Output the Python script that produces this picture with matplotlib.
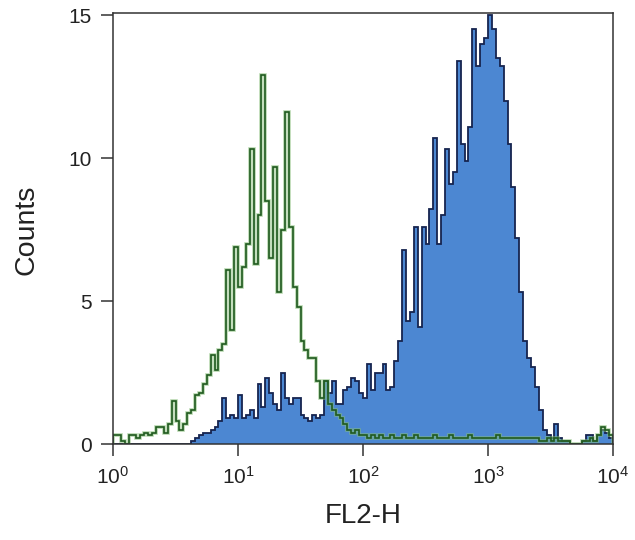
import numpy as np
import matplotlib
matplotlib.use("Agg")
import matplotlib.pyplot as plt

plt.rcParams['font.family'] = ['Liberation Sans', 'DejaVu Sans']
plt.rcParams['mathtext.fontset'] = 'custom'
plt.rcParams['mathtext.rm'] = 'Liberation Sans'
plt.rcParams['mathtext.it'] = 'Liberation Sans'

# 32 channels per decade, 10^0 .. 10^4
n_bins = 128
green_counts = [
    0.3, 0.3, 0.1, 0.0, 0.3, 0.3, 0.2, 0.3, 0.4, 0.3,
    0.4, 0.6, 0.6, 0.4, 0.7, 1.5, 0.8, 0.5, 0.7, 1.1,
    1.2, 1.7, 1.8, 2.1, 2.4, 3.1, 2.6, 3.3, 3.5, 6.1,
    4.0, 6.9, 5.5, 6.2, 7.0, 10.3, 6.3, 8.0, 12.9, 8.5,
    6.5, 9.7, 5.3, 7.5, 11.6, 7.6, 5.5, 4.8, 3.6, 3.3,
    3.0, 3.0, 2.2, 1.6, 2.2, 1.4, 1.2, 1.0, 0.9, 0.7,
    0.5, 0.4, 0.5, 0.3, 0.3, 0.2, 0.3, 0.2, 0.3, 0.2,
    0.2, 0.3, 0.2, 0.2, 0.3, 0.2, 0.2, 0.3, 0.2, 0.2,
    0.2, 0.2, 0.3, 0.2, 0.2, 0.2, 0.3, 0.2, 0.2, 0.2,
    0.2, 0.3, 0.2, 0.2, 0.2, 0.2, 0.2, 0.2, 0.3, 0.2,
    0.2, 0.2, 0.2, 0.2, 0.2, 0.2, 0.2, 0.2, 0.2, 0.1,
    0.1, 0.2, 0.1, 0.2, 0.1, 0.1, 0.1, 0.0, 0.0, 0.0,
    0.1, 0.1, 0.2, 0.1, 0.3, 0.6, 0.5, 0.3,
]
blue_counts = [
    0, 0, 0, 0, 0, 0, 0, 0, 0, 0,
    0, 0, 0, 0, 0, 0, 0, 0, 0, 0,
    0.1, 0.2, 0.3, 0.4, 0.4, 0.5, 0.6, 0.8, 1.6, 0.9,
    1.0, 0.9, 1.7, 0.9, 1.0, 1.2, 0.9, 2.1, 1.3, 2.3,
    1.8, 1.4, 1.2, 2.5, 1.6, 1.4, 1.6, 1.6, 1.0, 0.9,
    0.8, 1.0, 0.9, 1.0, 2.2, 1.8, 2.2, 1.4, 1.4, 1.9,
    2.0, 2.3, 2.2, 1.8, 1.6, 2.8, 1.9, 2.5, 2.5, 2.8,
    1.9, 2.0, 2.9, 3.6, 6.8, 4.3, 4.6, 7.6, 4.1, 7.6,
    7.0, 8.2, 10.7, 7.0, 8.0, 10.3, 9.1, 9.5, 13.4, 10.5,
    9.9, 11.1, 14.5, 13.2, 14.0, 14.2, 15.0, 14.5, 13.5, 13.2,
    12.0, 10.5, 9.0, 7.2, 5.3, 3.6, 3.0, 2.7, 2.0, 1.2,
    0.5, 0.3, 0.2, 0.7, 0.2, 0.1, 0.1, 0, 0, 0,
    0.1, 0.3, 0.3, 0.1, 0.3, 0.5, 0.4, 0.2,
]
x_ticks = [1, 10, 100, 1000, 10000]
x_tick_labels = [r'$\mathregular{10^{0}}$', r'$\mathregular{10^{1}}$',
                 r'$\mathregular{10^{2}}$', r'$\mathregular{10^{3}}$',
                 r'$\mathregular{10^{4}}$']
y_ticks = [0, 5, 10, 15]

edges = np.logspace(0, 4, n_bins + 1)

fig = plt.figure(figsize=(6.35, 5.4), dpi=100)
ax = fig.add_axes([113/635, 1 - 444/540, 500/635, 431/540])

ax.stairs(blue_counts, edges, fill=True, color='#4c87d2', zorder=2)
ax.stairs(blue_counts, edges, color='#16244f', lw=1.3, zorder=3)
ax.stairs(green_counts, edges, color='#86bd78', lw=2.6, alpha=0.6, zorder=4)
ax.stairs(green_counts, edges, color='#1f5a1f', lw=1.2, zorder=5)

ax.set_xscale('log')
ax.set_xlim(1, 10000)
ax.set_ylim(0, 15.07)
ax.set_xticks(x_ticks)
ax.set_xticklabels(x_tick_labels)
ax.xaxis.set_minor_locator(matplotlib.ticker.NullLocator())
ax.set_yticks(y_ticks)
ax.tick_params(axis='both', direction='out', length=8.5, width=1.1,
               color='#333333', labelsize=15, labelcolor='#222222')
ax.tick_params(axis='x', pad=7)
ax.tick_params(axis='y', pad=7)
for s in ax.spines.values():
    s.set_color('#333333')
    s.set_linewidth(1.1)
    s.set_zorder(6)

ax.set_xlabel('FL2-H', fontsize=20, color='#222222')
ax.set_ylabel('Counts', fontsize=20.5, color='#222222')
ax.xaxis.set_label_coords(0.5, -0.137)
ax.yaxis.set_label_coords(-0.148, 0.497)

fig.savefig('out.png', dpi=100)
